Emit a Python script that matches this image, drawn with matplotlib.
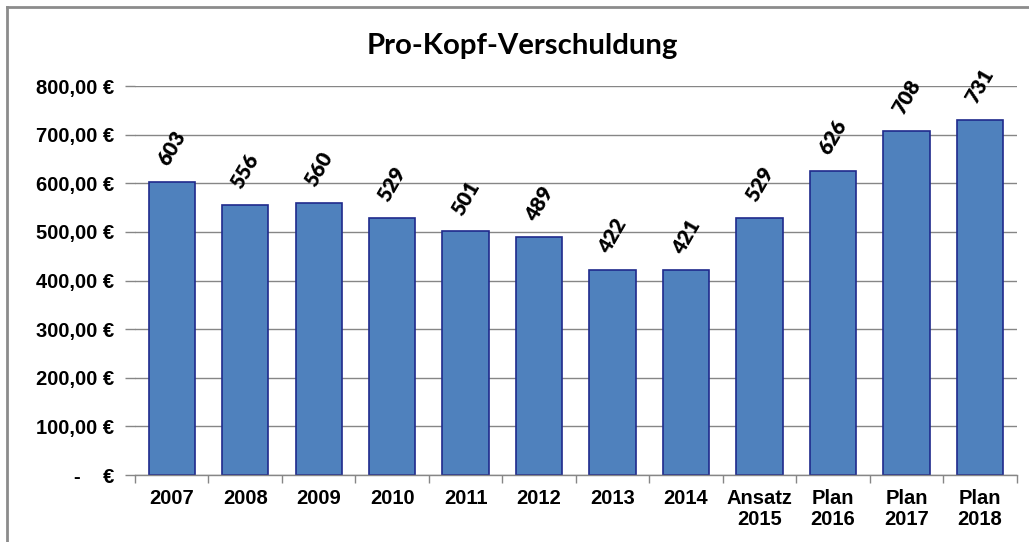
import matplotlib
matplotlib.use("Agg")
import matplotlib.pyplot as plt
from matplotlib.lines import Line2D

# Data
categories = ["2007", "2008", "2009", "2010", "2011", "2012", "2013", "2014",
              "Ansatz\n2015", "Plan\n2016", "Plan\n2017", "Plan\n2018"]
values = [603, 556, 560, 529, 501, 489, 422, 421, 529, 626, 708, 731]
yticks = [0, 100, 200, 300, 400, 500, 600, 700, 800]
ytick_labels = ["-    €", "100,00 €", "200,00 €", "300,00 €", "400,00 €",
                "500,00 €", "600,00 €", "700,00 €", "800,00 €"]

bar_color = "#4F81BD"
edge_color = "#1F2A8C"
grid_color = "#868686"

fig = plt.figure(figsize=(10.29, 5.42), dpi=100)
ax = fig.add_axes([0.1312, 0.1236, 0.8568, 0.7177])

x = list(range(len(categories)))
ax.bar(x, values, width=0.63, color=bar_color, edgecolor=edge_color,
       linewidth=1.2, zorder=3)

ax.set_xlim(-0.5, len(categories) - 0.5)
ax.set_ylim(0, 800)

# grid + axes styling
ax.set_yticks(yticks)
ax.set_yticklabels(ytick_labels, fontfamily="Liberation Sans",
                   fontweight="bold", fontsize=14.5)
ax.yaxis.grid(True, color=grid_color, linewidth=1.0, zorder=0)
ax.tick_params(axis="y", length=7, color=grid_color, width=1.0, pad=8)

ax.set_xticks(x)
ax.set_xticklabels(categories, fontfamily="Liberation Sans",
                   fontweight="bold", fontsize=14.5, linespacing=1.15)
ax.set_xticks([i + 0.5 for i in range(-1, len(categories))], minor=True)
ax.tick_params(axis="x", which="major", length=0, pad=10)
ax.tick_params(axis="x", which="minor", length=6, color=grid_color, width=1.0)

for side in ["top", "right", "left"]:
    ax.spines[side].set_visible(False)
ax.spines["bottom"].set_color(grid_color)
ax.spines["bottom"].set_linewidth(1.0)
ax.spines["bottom"].set_zorder(4)

# data labels
for xi, v in zip(x, values):
    ax.annotate(str(v), (xi, v), xytext=(0, 24), textcoords="offset points",
                rotation=60, ha="center", va="center",
                fontfamily="Lato", fontweight="heavy", fontsize=15)

fig.text(0.508, 0.915, "Pro-Kopf-Verschuldung", ha="center", va="center",
         fontfamily="Lato", fontweight="bold", fontsize=21.2)

# outer frame (left and top only visible)
fig.add_artist(Line2D([7 / 1029, 7 / 1029], [0, 1 - 7 / 542],
                      transform=fig.transFigure, color="#8C8C8C", linewidth=2))
fig.add_artist(Line2D([7 / 1029, 1], [1 - 7 / 542, 1 - 7 / 542],
                      transform=fig.transFigure, color="#8C8C8C", linewidth=2))

fig.savefig("out.png", dpi=100)
